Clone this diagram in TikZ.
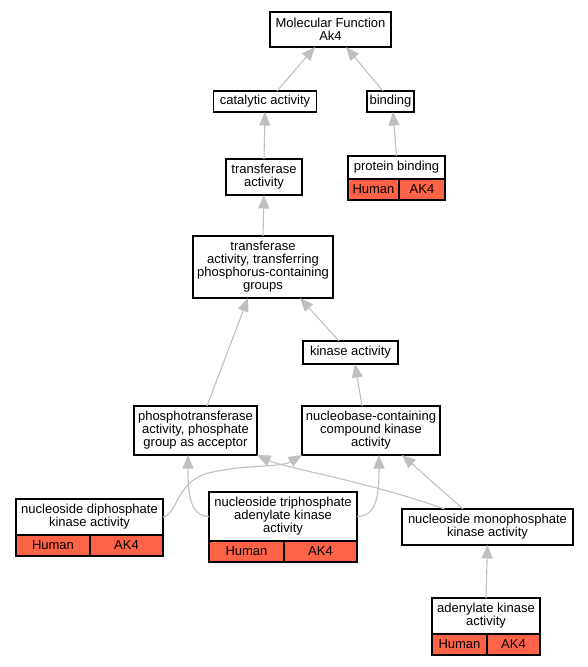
\documentclass[tikz,border=0pt]{standalone}
\usepackage{fontspec}
\setmainfont{Liberation Sans}
\usepackage{tikz}
\usetikzlibrary{positioning, arrows.meta}
\definecolor{edgegray}{RGB}{192,192,192}
\definecolor{tomato}{RGB}{255,99,71}
\tikzstyle{term} = [rectangle, draw=black, fill=white, line width=1.1pt, align=center, inner sep=0pt, outer sep=0pt, font=\fontsize{13}{13}\selectfont]
\tikzstyle{gene} = [rectangle, draw=black, fill=tomato, line width=1.1pt, inner sep=0pt, outer sep=0pt, minimum height=21, font=\fontsize{13}{13}\selectfont]
\tikzstyle{isa} = [draw=edgegray, line width=1.1pt, -{Triangle[length=13.5pt, width=11pt]}]

\begin{document}
\begin{tikzpicture}[x=1pt, y=-1pt]
    \useasboundingbox (0,0) rectangle (587,667);
    % Nodes
    \node (mf) [term, minimum width=121, minimum height=35] at (330.5,29.5) {Molecular Function\\Ak4};
    \node (cat) [term, minimum width=103, minimum height=21] at (265,101.5) {catalytic activity};
    \node (bind) [term, minimum width=47, minimum height=21] at (390.5,101.5) {binding};
    \node (trans) [term, minimum width=76, minimum height=36] at (264,177) {transferase\\activity};
    \node (pbind) [term, minimum width=97, minimum height=23, anchor=north] at (396.5,156) {protein binding};
    \node (transp) [term, minimum width=140, minimum height=62] at (263,267) {transferase\\activity, transferring\\phosphorus-containing\\groups};
    \node (kin) [term, minimum width=95, minimum height=23] at (350.5,352.5) {kinase activity};
    \node (phos) [term, minimum width=123, minimum height=49] at (195.5,430.5) {phosphotransferase\\activity, phosphate\\group as acceptor};
    \node (nucb) [term, minimum width=138, minimum height=49] at (371,430.5) {nucleobase-containing\\compound kinase\\activity};
    \node (diph) [term, minimum width=147, minimum height=36, anchor=north] at (89.5,499) {nucleoside diphosphate\\kinase activity};
    \node (triph) [term, minimum width=148, minimum height=49, anchor=north] at (283,492) {nucleoside triphosphate\\adenylate kinase\\activity};
    \node (mono) [term, minimum width=171, minimum height=36] at (487.5,527) {nucleoside monophosphate\\kinase activity};
    \node (adk) [term, minimum width=108, minimum height=36, anchor=north] at (486,598) {adenylate kinase\\activity};
    % Gene rows
    \node (pbind_sp) [gene, minimum width=51, anchor=north west] at (pbind.south west) {Human};
    \node (pbind_gn) [gene, minimum width=46, anchor=north west] at (pbind_sp.north east) {AK4};
    \node (diph_sp) [gene, minimum width=74, anchor=north west] at (diph.south west) {Human};
    \node (diph_gn) [gene, minimum width=73, anchor=north west] at (diph_sp.north east) {AK4};
    \node (triph_sp) [gene, minimum width=75, anchor=north west] at (triph.south west) {Human};
    \node (triph_gn) [gene, minimum width=73, anchor=north west] at (triph_sp.north east) {AK4};
    \node (adk_sp) [gene, minimum width=55, anchor=north west] at (adk.south west) {Human};
    \node (adk_gn) [gene, minimum width=53, anchor=north west] at (adk_sp.north east) {AK4};
    % Arrows
    \draw [isa] ([xshift=12]cat.north) -- ([xshift=-15.5]mf.south);
    \draw [isa] ([xshift=-7.5]bind.north) -- ([xshift=15.5]mf.south);
    \draw [isa] (trans.north) -- (cat.south);
    \draw [isa] (pbind.north) -- ([xshift=2.5]bind.south);
    \draw [isa] (transp.north) -- (trans.south);
    \draw [isa] ([xshift=-11.5]kin.north) -- ([xshift=37]transp.south);
    \draw [isa] ([xshift=11.5]phos.north) -- ([xshift=-15]transp.south);
    \draw [isa] ([xshift=-9]nucb.north) -- ([xshift=4.5]kin.south);
    \draw [isa] (diph.east) .. controls (178,513) and (176,484) .. (205,474) .. controls (240,464) and (280,468) .. (nucb.south west);
    \draw [isa] (triph.west) .. controls (190,516) and (188,495) .. ([xshift=-7.5]phos.south);
    \draw [isa] (triph.east) .. controls (377,516) and (379,495) .. ([xshift=8]nucb.south);
    \draw [isa] ([xshift=-43]mono.north) .. controls (370,482) and (285,468) .. (phos.south east);
    \draw [isa] ([xshift=-24.5]mono.north) -- ([xshift=31]nucb.south);
    \draw [isa] (adk.north) -- (mono.south);
\end{tikzpicture}
\end{document}
